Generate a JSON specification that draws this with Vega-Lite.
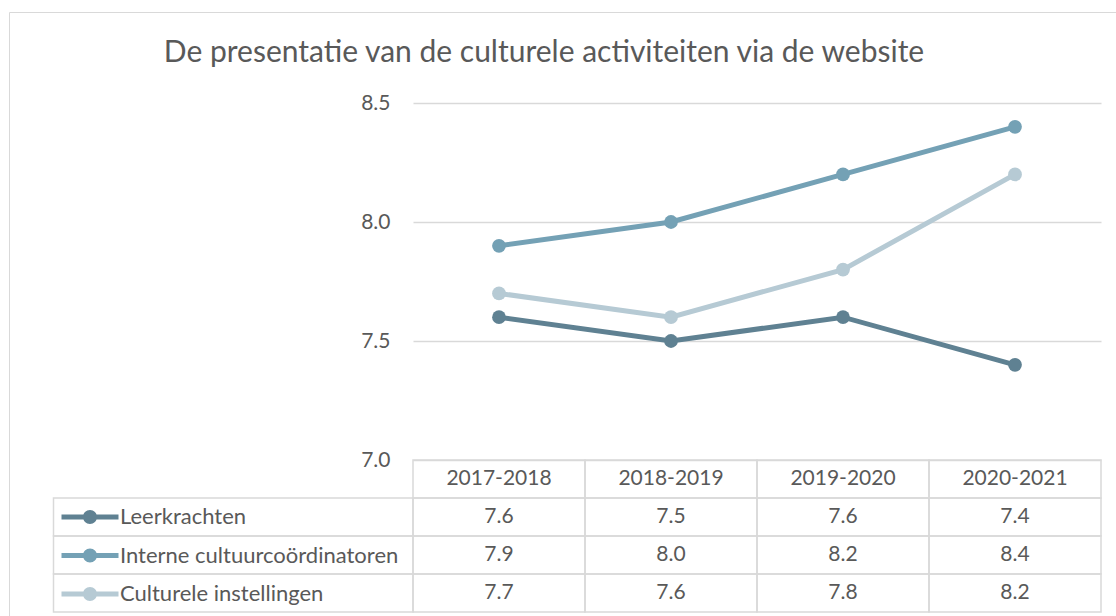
{
  "$schema": "https://vega.github.io/schema/vega-lite/v6.json",
  "width": 1107,
  "height": 604,
  "autosize": {"type": "none"},
  "padding": {"left": 9, "top": 12, "right": 0, "bottom": 0},
  "background": "white",
  "config": {"view": {"stroke": "#D9D9D9", "strokeWidth": 1}, "font": "Lato"},
  "title": {
    "text": "De presentatie van de culturele activiteiten via de website",
    "font": "Lato",
    "fontSize": 30,
    "fontWeight": "normal",
    "color": "#595959",
    "anchor": "middle",
    "frame": "group",
    "offset": 0,
    "baseline": "alphabetic",
    "dx": -18.5,
    "dy": 80
  },
  "datasets": {
    "scores": [
      {"groep": "Leerkrachten", "jaar": "2017-2018", "score": 7.6},
      {"groep": "Leerkrachten", "jaar": "2018-2019", "score": 7.5},
      {"groep": "Leerkrachten", "jaar": "2019-2020", "score": 7.6},
      {"groep": "Leerkrachten", "jaar": "2020-2021", "score": 7.4},
      {"groep": "Interne cultuurcoördinatoren", "jaar": "2017-2018", "score": 7.9},
      {"groep": "Interne cultuurcoördinatoren", "jaar": "2018-2019", "score": 8.0},
      {"groep": "Interne cultuurcoördinatoren", "jaar": "2019-2020", "score": 8.2},
      {"groep": "Interne cultuurcoördinatoren", "jaar": "2020-2021", "score": 8.4},
      {"groep": "Culturele instellingen", "jaar": "2017-2018", "score": 7.7},
      {"groep": "Culturele instellingen", "jaar": "2018-2019", "score": 7.6},
      {"groep": "Culturele instellingen", "jaar": "2019-2020", "score": 7.8},
      {"groep": "Culturele instellingen", "jaar": "2020-2021", "score": 8.2}
    ]
  },
  "data": {"name": "scores"},
  "layer": [
    {
      "encoding": {
        "x": {
          "field": "jaar", "type": "nominal", "sort": null,
          "scale": {"domain": ["2017-2018", "2018-2019", "2019-2020", "2020-2021"], "range": [404, 1092], "paddingInner": 0, "paddingOuter": 0},
          "axis": null
        },
        "y": {
          "field": "score", "type": "quantitative",
          "scale": {"domain": [7, 8.5], "range": [448, 91], "zero": false, "nice": false},
          "axis": {
            "values": [7, 7.5, 8, 8.5], "format": ".1f", "orient": "left",
            "offset": -386, "labelPadding": 5, "ticks": false, "domain": false,
            "grid": true, "gridColor": "#D9D9D9", "gridWidth": 1.5,
            "labelFont": "Lato", "labelFontSize": 21, "labelColor": "#595959", "title": null
          }
        },
        "color": {
          "field": "groep", "type": "nominal",
          "scale": {
            "domain": ["Leerkrachten", "Interne cultuurcoördinatoren", "Culturele instellingen"],
            "range": ["#5F8192", "#74A1B5", "#B6CAD4"]
          },
          "legend": {
            "orient": "none", "legendX": 44, "legendY": 494, "title": null,
            "symbolType": "M-5.7,-0.5H5.7V0.5H-5.7Z M1.4,0A1.4,1.4,0,1,1,-1.4,0A1.4,1.4,0,1,1,1.4,0Z",
            "symbolSize": 100, "symbolOffset": 26, "labelOffset": 19,
            "symbolStrokeWidth": 0, "symbolOpacity": 1,
            "labelFont": "Lato", "labelFontSize": 22, "labelColor": "#595959", "labelLimit": 0,
            "rowPadding": 16.5, "padding": 0
          }
        }
      },
      "layer": [
        {"mark": {"type": "line", "strokeWidth": 5}},
        {"mark": {"type": "point", "filled": true, "size": 190, "opacity": 1}}
      ]
    },
    {
      "encoding": {
        "x": {
          "field": "jaar", "type": "nominal", "sort": null,
          "scale": {"domain": ["2017-2018", "2018-2019", "2019-2020", "2020-2021"], "range": [404, 1092], "paddingInner": 0, "paddingOuter": 0},
          "axis": null
        },
        "y": {
          "field": "groep", "type": "nominal", "sort": null,
          "scale": {"domain": ["kop", "Leerkrachten", "Interne cultuurcoördinatoren", "Culturele instellingen"], "range": [448, 600], "paddingInner": 0, "paddingOuter": 0},
          "axis": null
        }
      },
      "layer": [
        {"mark": {"type": "rect", "fill": "white", "fillOpacity": 0, "stroke": "#D9D9D9", "strokeWidth": 1.5}},
        {
          "mark": {"type": "text", "font": "Lato", "fontSize": 21, "color": "#595959", "baseline": "middle"},
          "encoding": {"text": {"field": "score", "type": "quantitative", "format": ".1f"}}
        },
        {
          "transform": [{"aggregate": [{"op": "count", "as": "n"}], "groupby": ["jaar"]}],
          "mark": {"type": "rect", "fill": "white", "fillOpacity": 0, "stroke": "#D9D9D9", "strokeWidth": 1.5},
          "encoding": {"y": {"datum": "kop", "type": "nominal"}}
        },
        {
          "transform": [{"aggregate": [{"op": "count", "as": "n"}], "groupby": ["jaar"]}],
          "mark": {"type": "text", "font": "Lato", "fontSize": 21, "color": "#595959", "baseline": "middle"},
          "encoding": {"y": {"datum": "kop", "type": "nominal"}, "text": {"field": "jaar", "type": "nominal"}}
        }
      ]
    },
    {
      "transform": [{"aggregate": [{"op": "count", "as": "n"}], "groupby": ["groep"]}],
      "mark": {"type": "rect", "fill": "white", "fillOpacity": 0, "stroke": "#D9D9D9", "strokeWidth": 1.5},
      "encoding": {
        "x": {
          "datum": "labels", "type": "nominal",
          "scale": {"domain": ["labels"], "range": [44.5, 404], "paddingInner": 0, "paddingOuter": 0},
          "axis": null
        },
        "y": {
          "field": "groep", "type": "nominal", "sort": null,
          "scale": {"domain": ["kop", "Leerkrachten", "Interne cultuurcoördinatoren", "Culturele instellingen"], "range": [448, 600], "paddingInner": 0, "paddingOuter": 0},
          "axis": null
        }
      }
    }
  ],
  "resolve": {"scale": {"x": "independent", "y": "independent"}}
}
